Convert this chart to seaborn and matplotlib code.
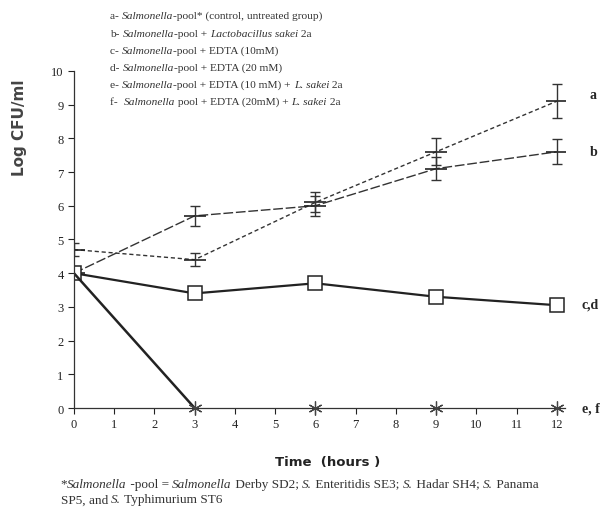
"""
Survival of a Salmonella pool over 12 h with EDTA and L. sakei 2a
"""
import pandas as pd
import matplotlib
matplotlib.use("Agg")
import matplotlib.pyplot as plt
import seaborn as sns

sns.set_style("ticks")
plt.rcParams["font.family"] = ["Liberation Serif", "DejaVu Serif"]

# ---------------------------------------------------------
# DATA
# ---------------------------------------------------------
hours = [0, 3, 6, 9, 12]
a_vals = [4.7, 4.4, 6.1, 7.6, 9.1]      # control
a_err = [0.2, 0.2, 0.3, 0.4, 0.5]
b_vals = [4.0, 5.7, 6.0, 7.1, 7.6]      # + L. sakei 2a
b_err = [0.0, 0.3, 0.3, 0.35, 0.37]
cd_vals = [4.0, 3.4, 3.7, 3.3, 3.05]    # + EDTA 10 / 20 mM
ef_vals = [4.0, 0.0, 0.0, 0.0, 0.0]     # + EDTA + L. sakei 2a

xticks = list(range(0, 13))
yticks = list(range(0, 11))

df = pd.DataFrame({"hours": hours, "a": a_vals, "b": b_vals, "cd": cd_vals, "ef": ef_vals})

# ---------------------------------------------------------
# FIGURE
# ---------------------------------------------------------
fig = plt.figure(figsize=(6.06, 5.10), dpi=100)
ax = fig.add_axes([0.122, 0.198, 0.81, 0.661])

sns.lineplot(data=df, x="hours", y="a", ax=ax, color="#333333", lw=1.0,
             linestyle=(0, (3, 2)), marker="_", markersize=16,
             markeredgewidth=1.2, markeredgecolor="#222222")
ax.errorbar(hours, a_vals, yerr=a_err, fmt="none", ecolor="#333333",
            elinewidth=1.0, capsize=3.5)

sns.lineplot(data=df, x="hours", y="b", ax=ax, color="#333333", lw=1.0,
             linestyle=(0, (7, 2)), marker="_", markersize=16,
             markeredgewidth=1.2, markeredgecolor="#222222")
ax.errorbar(hours[1:], b_vals[1:], yerr=b_err[1:], fmt="none", ecolor="#333333",
            elinewidth=1.0, capsize=3.5)

sns.lineplot(data=df, x="hours", y="cd", ax=ax, color="#222222", lw=1.6,
             marker="s", markersize=10, markerfacecolor="white",
             markeredgecolor="#222222", markeredgewidth=1.1)

# e,f drop to zero by 3 h and stay there
sns.lineplot(data=df.iloc[:2], x="hours", y="ef", ax=ax, color="#222222", lw=1.8)
ax.plot(hours[1:], ef_vals[1:], linestyle="none", marker=(6, 2, 0), markersize=10,
        color="#444444", markeredgewidth=0.9, clip_on=False, zorder=5)

ax.set_xlim(0, 12.2)
ax.set_ylim(0, 10)
ax.set_xticks(xticks)
ax.set_yticks(yticks)
ax.tick_params(labelsize=9, length=4, width=0.8, direction="out", colors="#222222")
ax.set_xlabel("")
ax.set_ylabel("")
sns.despine(ax=ax)
for s in ["left", "bottom"]:
    ax.spines[s].set_linewidth(0.9)
    ax.spines[s].set_color("#333333")

# right-hand series labels
for lab, y in [("a", 9.3), ("b", 7.6), ("c,d", 3.1), ("e, f", 0.0)]:
    ax.text(1.035 if len(lab) > 1 else 1.05, y / 10, lab, transform=ax.transAxes,
            fontsize=10, fontweight="bold", va="center", ha="left")

# axis titles
fig.text(0.033, 0.749, "Log CFU/ml", rotation=90, fontsize=11, fontweight="bold",
         family="DejaVu Sans", color="#444444", ha="center", va="center")
fig.text(0.54, 0.093, "Time  (hours )", fontsize=9.5, fontweight="bold",
         family="DejaVu Sans", color="#222222", ha="center", va="center")


# ---------------------------------------------------------
# mixed roman / italic text lines
# ---------------------------------------------------------
def chain(x, y, parts, size):
    prev = fig.text(x, y, parts[0][0], fontsize=size, style=parts[0][1],
                    va="bottom", ha="left", color="#333333")
    for txt, st in parts[1:]:
        prev = ax.annotate(txt, xy=(1, 0), xycoords=prev, fontsize=size, style=st,
                           va="bottom", ha="left", color="#333333",
                           annotation_clip=False)


N, I = "normal", "italic"
legend_lines = [
    [("a- ", N), ("Salmonella", I), ("-pool* (control, untreated group)", N)],
    [("b- ", N), ("Salmonella", I), ("-pool + ", N), ("Lactobacillus sakei", I), (" 2a", N)],
    [("c- ", N), ("Salmonella", I), ("-pool + EDTA (10mM)", N)],
    [("d- ", N), ("Salmonella", I), ("-pool + EDTA (20 mM)", N)],
    [("e- ", N), ("Salmonella", I), ("-pool + EDTA (10 mM) + ", N), ("L. sakei", I), (" 2a", N)],
    [("f-  ", N), ("Salmonella", I), (" pool + EDTA (20mM) + ", N), ("L. sakei", I), (" 2a", N)],
]
for i, parts in enumerate(legend_lines):
    chain(0.182, 0.958 - i * 0.0335, parts, 8.2)

foot = [
    [("*", N), ("Salmonella", I), (" -pool = ", N), ("Salmonella", I), (" Derby SD2; ", N),
     ("S.", I), (" Enteritidis SE3; ", N), ("S.", I), (" Hadar SH4; ", N), ("S.", I), (" Panama", N)],
    [("SP5, and ", N), ("S.", I), (" Typhimurium ST6", N)],
]
for i, parts in enumerate(foot):
    chain(0.1, 0.038 - i * 0.031, parts, 9.5)

fig.savefig("out.png", dpi=100)
